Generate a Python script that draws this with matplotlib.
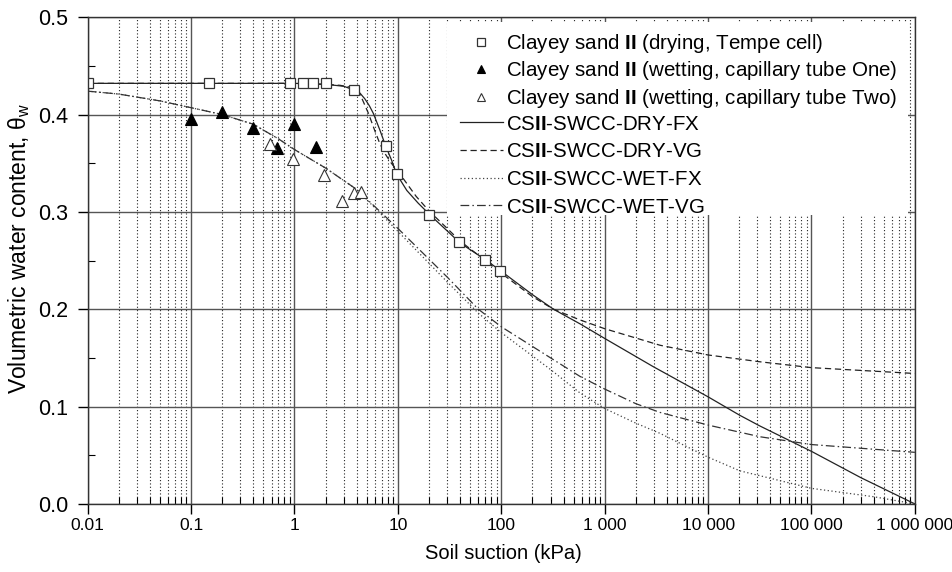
import matplotlib
matplotlib.use("Agg")
import matplotlib.pyplot as plt
from matplotlib.patches import Rectangle
from matplotlib.ticker import FixedLocator, FixedFormatter, LogLocator, MultipleLocator, NullFormatter

plt.rcParams["font.family"] = ["Liberation Sans", "DejaVu Sans"]
plt.rcParams["mathtext.fontset"] = "custom"
plt.rcParams["mathtext.rm"] = "Liberation Sans"
plt.rcParams["mathtext.bf"] = "Liberation Sans:bold"

# measured data (suction in kPa, volumetric water content)
dry_suction = [0.01, 0.15, 0.9, 1.2, 1.5, 2.0, 3.8, 7.6, 9.7, 20, 39, 69, 98]
dry_theta = [0.432, 0.432, 0.432, 0.432, 0.432, 0.432, 0.425, 0.368, 0.339, 0.297, 0.269, 0.251, 0.239]
wet1_suction = [0.1, 0.2, 0.4, 0.68, 1.0, 1.6]
wet1_theta = [0.395, 0.403, 0.386, 0.366, 0.390, 0.367]
wet2_suction = [0.58, 0.97, 1.95, 2.9, 3.8, 4.4]
wet2_theta = [0.370, 0.354, 0.338, 0.311, 0.319, 0.320]

# fitted curves
dry_fx_s = [0.01, 0.1, 1, 2, 3, 3.8, 4.3, 4.8, 5.3, 5.8, 6.7, 7.6, 8.7, 9.7, 12.2, 15.7, 20.4,
            29.6, 40, 70, 100, 200, 320, 577, 1000, 2950, 10000, 20300, 31800, 100000, 300000, 1000000]
dry_fx_t = [0.432, 0.432, 0.432, 0.431, 0.429, 0.425, 0.422, 0.416, 0.409, 0.401, 0.384, 0.368,
            0.353, 0.339, 0.322, 0.309, 0.297, 0.281, 0.268, 0.251, 0.239, 0.215, 0.200, 0.185,
            0.170, 0.141, 0.110, 0.091, 0.080, 0.054, 0.027, 0.0]
dry_vg_s = [0.01, 0.1, 1, 2, 2.76, 3.5, 4.3, 5.2, 6.0, 6.7, 7.6, 8.5, 9.4, 11.3, 15, 20, 30, 40,
            70, 100, 200, 320, 577, 1000, 3430, 10000, 31800, 100000, 1000000]
dry_vg_t = [0.432, 0.432, 0.432, 0.431, 0.430, 0.428, 0.421, 0.401, 0.383, 0.370, 0.359, 0.351,
            0.345, 0.334, 0.316, 0.301, 0.283, 0.270, 0.250, 0.237, 0.213, 0.200, 0.189, 0.180,
            0.163, 0.153, 0.146, 0.140, 0.134]
wet_fx_s = [0.01, 0.02, 0.05, 0.1, 0.2, 0.4, 0.7, 1, 2, 4, 10, 30, 60, 100, 300, 577, 1000,
            2000, 3430, 10000, 20300, 100000, 400000, 1000000]
wet_fx_t = [0.424, 0.421, 0.414, 0.407, 0.400, 0.390, 0.375, 0.364, 0.345, 0.323, 0.280, 0.228,
            0.196, 0.176, 0.138, 0.114, 0.098, 0.083, 0.0725, 0.048, 0.034, 0.016, 0.0074, 0.0]
wet_vg_s = [0.01, 0.02, 0.05, 0.1, 0.2, 0.4, 0.7, 1, 2, 4, 10, 30, 60, 100, 300, 577, 1000,
            2000, 3430, 10000, 31800, 100000, 1000000]
wet_vg_t = [0.424, 0.421, 0.414, 0.407, 0.400, 0.390, 0.375, 0.364, 0.345, 0.323, 0.283, 0.233,
            0.200, 0.182, 0.150, 0.131, 0.118, 0.103, 0.094, 0.081, 0.069, 0.061, 0.053]

x_ticks = [0.01, 0.1, 1, 10, 100, 1000, 10000, 100000, 1000000]
x_tick_labels = ["0.01", "0.1", "1", "10", "100", "1 000", "10 000", "100 000", "1 000 000"]
y_ticks = [0.0, 0.1, 0.2, 0.3, 0.4, 0.5]
y_tick_labels = ["0.0", "0.1", "0.2", "0.3", "0.4", "0.5"]

fig = plt.figure(figsize=(9.53, 5.72), dpi=100)
ax = fig.add_axes([0.092, 0.119, 0.868, 0.851])

ax.plot(dry_fx_s, dry_fx_t, color="#222222", lw=0.9, ls="-", label=r"CS$\mathbf{II}$-SWCC-DRY-FX")
ax.plot(dry_vg_s, dry_vg_t, color="#222222", lw=0.9, ls=(0, (5, 3)), label=r"CS$\mathbf{II}$-SWCC-DRY-VG")
ax.plot(wet_fx_s, wet_fx_t, color="#444444", lw=0.9, ls=(0, (1, 2)), label=r"CS$\mathbf{II}$-SWCC-WET-FX")
ax.plot(wet_vg_s, wet_vg_t, color="#333333", lw=0.9, ls=(0, (7, 2.5, 1.2, 2.5)),
        label=r"CS$\mathbf{II}$-SWCC-WET-VG")

ax.plot(dry_suction, dry_theta, ls="none", marker="s", ms=7.5, mfc="white", mec="#333333", mew=0.9,
        label=r"Clayey sand $\mathbf{II}$ (drying, Tempe cell)")
ax.plot(wet1_suction, wet1_theta, ls="none", marker="^", ms=8, mfc="black", mec="black", mew=0.8,
        label=r"Clayey sand $\mathbf{II}$ (wetting, capillary tube One)")
ax.plot(wet2_suction, wet2_theta, ls="none", marker="^", ms=8, mfc="white", mec="#333333", mew=0.8,
        label=r"Clayey sand $\mathbf{II}$ (wetting, capillary tube Two)")

ax.set_xscale("log")
ax.set_xlim(0.01, 1000000)
ax.set_ylim(0, 0.5)
ax.xaxis.set_major_locator(FixedLocator(x_ticks))
ax.xaxis.set_major_formatter(FixedFormatter(x_tick_labels))
ax.xaxis.set_minor_locator(LogLocator(base=10, subs=range(2, 10), numticks=20))
ax.xaxis.set_minor_formatter(NullFormatter())
ax.yaxis.set_major_locator(FixedLocator(y_ticks))
ax.yaxis.set_major_formatter(FixedFormatter(y_tick_labels))
ax.yaxis.set_minor_locator(MultipleLocator(0.05))

ax.grid(which="major", axis="both", color="#555555", lw=1.0, ls="-")
ax.grid(which="minor", axis="x", color="#222222", lw=0.8, ls=(0, (1, 2)))
ax.set_axisbelow(True)
ax.tick_params(which="major", direction="out", length=7, width=1)
ax.tick_params(axis="x", which="major", labelsize=12.6, pad=3)
ax.tick_params(axis="y", which="major", labelsize=15.5, pad=7)
ax.tick_params(which="minor", direction="in", length=5, width=0.8)
for s in ax.spines.values():
    s.set_color("#333333")
    s.set_linewidth(1.0)

ax.set_xlabel("Soil suction (kPa)", fontsize=14.5)
ax.set_ylabel(r"Volumetric water content, θ$_\mathrm{w}$", fontsize=16.5)
ax.xaxis.set_label_coords(0.503, -0.082)
ax.yaxis.set_label_coords(-0.067, 0.525)

# white block behind the legend hides the grid there
ax.add_patch(Rectangle((0.4343, 0.5934), 0.5572, 0.3963, transform=ax.transAxes,
                       facecolor="white", edgecolor="none", zorder=1.5))

handles, labels = ax.get_legend_handles_labels()
leg_style = dict(loc="upper left", fontsize=14.8, frameon=False, handlelength=2.14,
                 handletextpad=0.1, borderpad=0, borderaxespad=0, markerscale=0.8)
leg_markers = ax.legend(handles[4:], labels[4:], bbox_to_anchor=(0.4495, 0.9698),
                        labelspacing=0.22, **leg_style)
ax.add_artist(leg_markers)
ax.legend(handles[:4], labels[:4], bbox_to_anchor=(0.4495, 0.7998),
          labelspacing=0.42, **leg_style)

fig.savefig("out.png", dpi=100)
